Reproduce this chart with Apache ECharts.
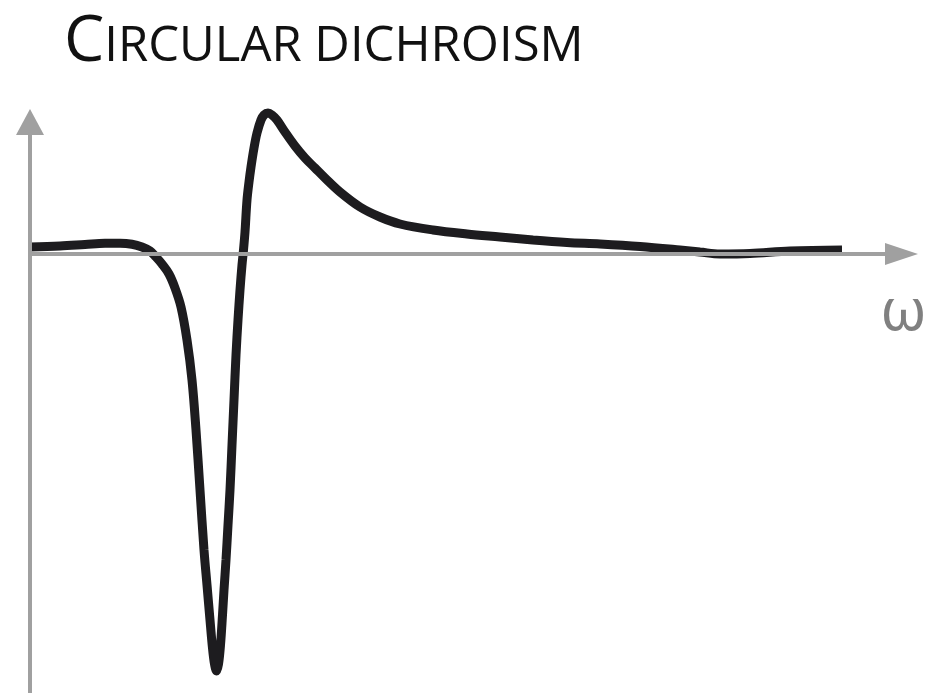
<!DOCTYPE html>
<html>
<head>
<meta charset="utf-8">
<script src="https://cdn.jsdelivr.net/npm/echarts@6/dist/echarts.min.js"></script>
<style>
  html, body { margin: 0; padding: 0; background: #fff; }
  #cdChart { width: 930px; height: 693px; }
</style>
</head>
<body>
<div id="cdChart"></div>
<script>
// frequency (arbitrary units, axis starts at 0)
var omega = [0, 30, 55, 75, 90, 102, 112, 120, 126, 132, 139, 145, 151, 157, 162, 166, 170, 174, 177, 180,
  182.5, 184.5, 186.5, 188.5, 190.5, 192.5, 194, 196, 198, 200, 202, 204, 206, 208, 210, 212, 213.5, 215, 217, 219,
  221, 224, 227, 231, 234, 238, 242, 247, 255, 265, 275, 285, 295, 310, 330, 350, 370, 403, 437, 470,
  503, 537, 570, 610, 650, 670, 690, 720, 760, 812]
// circular dichroism signal (arbitrary units)
var signal = [7, 8, 9.5, 10.7, 10.8, 9.8, 7, 3, -3, -10, -20, -34, -53, -86, -126, -176, -236, -296, -331, -366,
  -394, -410, -417, -410, -391, -361, -336, -306, -271, -236, -191, -146, -101, -66, -36, -11, 4, 22, 54, 72,
  87, 106, 121, 134, 139, 141, 139, 134, 122, 108, 96, 86, 76, 62, 47, 37, 30, 24, 20, 17,
  14, 11.5, 10, 7.5, 4, 2, 0, 0.5, 3, 4]

var points = omega.map(function (w, i) { return [w, signal[i]] })

var axisGray = '#a0a0a0'

var option = {
  animation: false,
  title: {
    text: '{big|C}{small|IRCULAR DICHROISM}',
    left: 59,
    top: 6,
    textStyle: {
      rich: {
        big: { fontFamily: 'Open Sans', fontWeight: 'normal', fontSize: 64, color: '#111', verticalAlign: 'bottom' },
        small: { fontFamily: 'Open Sans', fontWeight: 'normal', fontSize: 49, color: '#111', verticalAlign: 'bottom', padding: [0, 0, 3, 0] }
      }
    }
  },
  grid: {
    left: 30,
    right: 28.5,
    top: 122,
    bottom: 0
  },
  xAxis: {
    type: 'value',
    min: 0,
    max: 871.5,
    z: 5,
    name: 'ω',
    nameLocation: 'end',
    nameGap: 2,
    nameTextStyle: {
      fontFamily: 'Noto Sans',
      fontSize: 58,
      color: '#808080',
      align: 'center',
      verticalAlign: 'top',
      padding: [30, 0, 0, 0]
    },
    axisLine: {
      show: true,
      onZero: true,
      symbol: ['none', 'triangle'],
      symbolSize: [22, 33],
      lineStyle: { color: axisGray, width: 4 }
    },
    axisTick: { show: false },
    axisLabel: { show: false },
    splitLine: { show: false }
  },
  yAxis: {
    type: 'value',
    min: -439,
    max: 132,
    z: 5,
    axisLine: {
      show: true,
      symbol: ['none', 'triangle'],
      symbolSize: [28, 26],
      lineStyle: { color: axisGray, width: 4 }
    },
    axisTick: { show: false },
    axisLabel: { show: false },
    splitLine: { show: false }
  },
  series: [
    {
      name: 'CD',
      type: 'line',
      data: points,
      smooth: 0.35,
      clip: false,
      showSymbol: false,
      z: 2,
      lineStyle: { color: '#1d1c1f', width: 9 }
    }
  ]
}

var myChart = echarts.init(document.getElementById('cdChart'))
myChart.setOption(option)
</script>
</body>
</html>
